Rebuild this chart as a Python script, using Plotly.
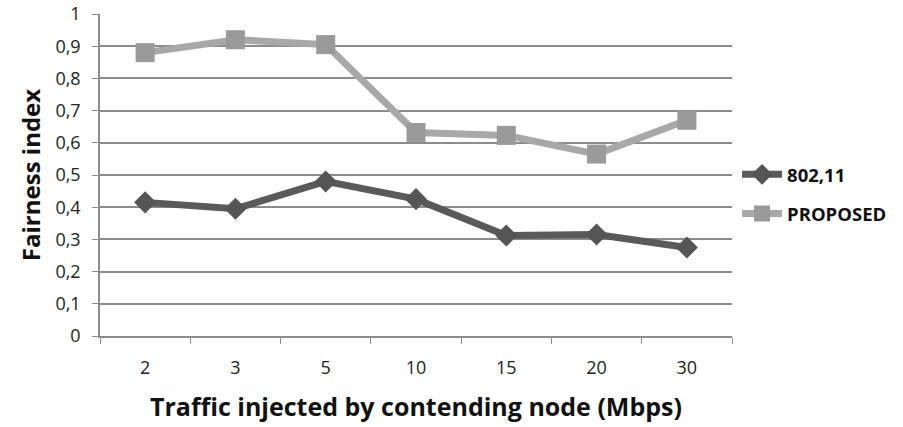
import plotly.graph_objects as go

categories = ["2", "3", "5", "10", "15", "20", "30"]
ieee_80211 = [0.415, 0.395, 0.48, 0.425, 0.312, 0.315, 0.275]
proposed = [0.88, 0.92, 0.905, 0.632, 0.623, 0.565, 0.67]
y_tick_vals = [0, 0.1, 0.2, 0.3, 0.4, 0.5, 0.6, 0.7, 0.8, 0.9, 1]
y_tick_text = ["0", "0,1", "0,2", "0,3", "0,4", "0,5", "0,6", "0,7", "0,8", "0,9", "1"]

FONT = "'Open Sans', sans-serif"

fig = go.Figure()
fig.add_trace(go.Scatter(
    x=categories, y=ieee_80211, name="802,11", mode="lines+markers",
    legendgroup="a",
    line=dict(color="#5a5a5a", width=7),
    marker=dict(symbol="diamond", size=17, color="#555555"),
))
fig.add_trace(go.Scatter(
    x=categories, y=proposed, name="PROPOSED", mode="lines+markers",
    legendgroup="b",
    line=dict(color="#a8a8a8", width=7),
    marker=dict(symbol="square", size=19, color="#9a9a9a"),
))

fig.update_layout(
    width=903, height=427,
    margin=dict(l=100, r=171, t=14, b=91, autoexpand=False),
    paper_bgcolor="white", plot_bgcolor="white",
    font=dict(family=FONT, color="#222222"),
    legend=dict(
        x=1.008, y=0.44, xanchor="left", yanchor="middle",
        font=dict(size=18.5, family=FONT, color="#111111", weight="bold"),
        itemwidth=40, tracegroupgap=12, bgcolor="rgba(0,0,0,0)",
    ),
    xaxis=dict(
        type="category", range=[-0.5, 6.5],
        showline=True, linecolor="#8c8c8c", linewidth=1.5,
        ticks="outside", tickson="boundaries", ticklen=6, tickcolor="#8c8c8c",
        tickfont=dict(size=18, family=FONT, color="#222222"),
        ticklabelstandoff=15,
        showgrid=False,
        title=dict(text="Traffic injected by contending node (Mbps)",
                   font=dict(size=25, family=FONT, color="#111111", weight="bold"),
                   standoff=20),
    ),
    yaxis=dict(
        range=[0, 1], tickvals=y_tick_vals, ticktext=y_tick_text,
        showline=True, linecolor="#8c8c8c", linewidth=1.5,
        ticks="outside", ticklen=6, tickcolor="#8c8c8c",
        tickfont=dict(size=18, family=FONT, color="#222222"),
        ticklabelstandoff=8,
        showgrid=True, gridcolor="#8c8c8c", gridwidth=1.5,
        zeroline=False,
        title=dict(text="Fairness index",
                   font=dict(size=24, family=FONT, color="#111111", weight="bold"),
                   standoff=8),
    ),
)

fig.write_html("out.html")
